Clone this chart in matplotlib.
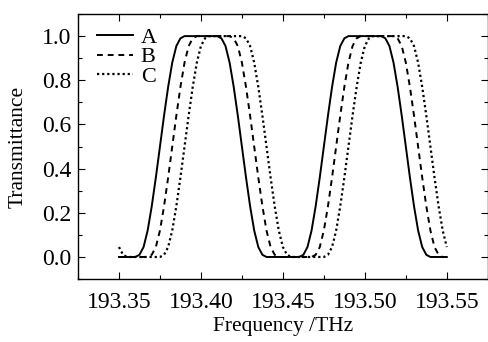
import numpy as np
import matplotlib
matplotlib.use('Agg')
import matplotlib.pyplot as plt
from matplotlib.ticker import MultipleLocator

plt.rcParams['font.family'] = ['Liberation Serif', 'DejaVu Serif']

# frequency grid (THz), 0.0025 THz step from 193.35 to 193.55
freq = np.round(193.35 + 0.0025 * np.arange(81), 4)

trans_a = [0, 0, 0, 0, 0, 0.01, 0.045, 0.12, 0.23, 0.36,
           0.5, 0.64, 0.77, 0.88, 0.955, 0.99, 1, 1, 1, 1,
           1, 1, 1, 1, 1, 0.99, 0.955, 0.88, 0.77, 0.64,
           0.5, 0.36, 0.23, 0.12, 0.045, 0.01, 0, 0, 0, 0,
           0, 0, 0, 0, 0, 0.01, 0.045, 0.12, 0.23, 0.36,
           0.5, 0.64, 0.77, 0.88, 0.955, 0.99, 1, 1, 1, 1,
           1, 1, 1, 1, 1, 0.99, 0.955, 0.88, 0.77, 0.64,
           0.5, 0.36, 0.23, 0.12, 0.045, 0.01, 0, 0, 0, 0, 0]

trans_b = [0, 0, 0, 0, 0, 0, 0, 0, 0.01, 0.045,
           0.12, 0.23, 0.36, 0.5, 0.64, 0.77, 0.88, 0.955, 0.99, 1,
           1, 1, 1, 1, 1, 1, 1, 1, 0.99, 0.955,
           0.88, 0.77, 0.64, 0.5, 0.36, 0.23, 0.12, 0.045, 0.01, 0,
           0, 0, 0, 0, 0, 0, 0, 0, 0.01, 0.045,
           0.12, 0.23, 0.36, 0.5, 0.64, 0.77, 0.88, 0.955, 0.99, 1,
           1, 1, 1, 1, 1, 1, 1, 1, 0.99, 0.955,
           0.88, 0.77, 0.64, 0.5, 0.36, 0.23, 0.12, 0.045, 0.01, 0, 0]

trans_c = [0.045, 0.01, 0, 0, 0, 0, 0, 0, 0, 0,
           0, 0.01, 0.045, 0.12, 0.23, 0.36, 0.5, 0.64, 0.77, 0.88,
           0.955, 0.99, 1, 1, 1, 1, 1, 1, 1, 1,
           1, 0.99, 0.955, 0.88, 0.77, 0.64, 0.5, 0.36, 0.23, 0.12,
           0.045, 0.01, 0, 0, 0, 0, 0, 0, 0, 0,
           0, 0.01, 0.045, 0.12, 0.23, 0.36, 0.5, 0.64, 0.77, 0.88,
           0.955, 0.99, 1, 1, 1, 1, 1, 1, 1, 1,
           1, 0.99, 0.955, 0.88, 0.77, 0.64, 0.5, 0.36, 0.23, 0.12, 0.045]

fig = plt.figure(figsize=(4.89, 3.42), dpi=100)
ax = fig.add_axes([0.1595, 0.184, 0.838, 0.775])

ax.plot(freq, trans_a, color='black', lw=1.4, ls='-', label='A')
ax.plot(freq, trans_b, color='black', lw=1.4, ls=(0, (3, 2.5)), label='B')
ax.plot(freq, trans_c, color='black', lw=1.6, ls=(0, (1, 1.3)), label='C')

ax.set_xlim(193.325, 193.575)
ax.set_ylim(-0.1, 1.1)
ax.xaxis.set_minor_locator(MultipleLocator(0.025))
ax.yaxis.set_major_locator(MultipleLocator(0.2))
ax.yaxis.set_minor_locator(MultipleLocator(0.1))
ax.set_xticks([193.35, 193.40, 193.45, 193.50, 193.55])
ax.set_xticklabels(['193.35', '193.40', '193.45', '193.50', '193.55'])
ax.tick_params(which='both', direction='in', top=True, right=True,
               labelsize=17, width=0.8)
ax.tick_params(which='major', length=5)
ax.tick_params(axis='x', which='major', pad=9)
ax.tick_params(axis='y', which='major', pad=5)
ax.tick_params(which='minor', length=3)
for s in ax.spines.values():
    s.set_linewidth(1.0)

ax.set_xlabel('Frequency /THz', fontsize=15.5, labelpad=3)
ax.set_ylabel('Transmittance', fontsize=15.5, labelpad=10)

ax.legend(loc='upper left', frameon=False, fontsize=16, handlelength=1.6,
          handletextpad=0.35, labelspacing=-0.05, borderaxespad=0.2,
          bbox_to_anchor=(0.015, 1.0))

fig.savefig('out.png', dpi=100)
